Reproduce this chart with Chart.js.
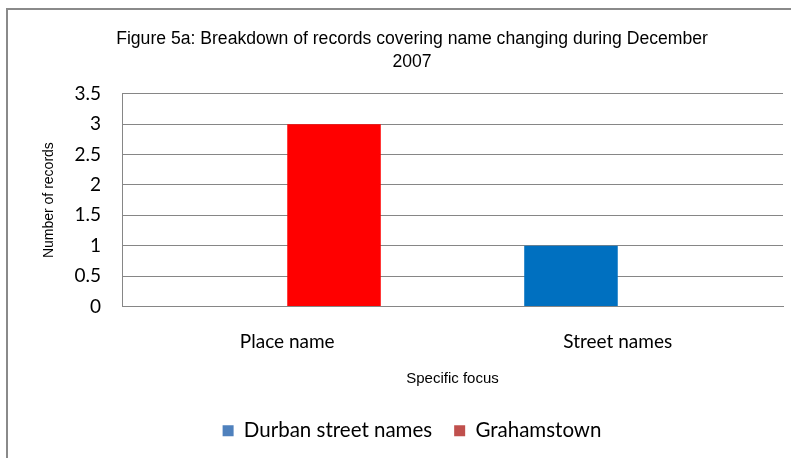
<!DOCTYPE html>
<html>
<head>
<meta charset="utf-8">
<script src="https://cdn.jsdelivr.net/npm/chart.js@4"></script>
<style>
  html, body { margin: 0; padding: 0; background: #fff; }
  #wrap { width: 791px; height: 458px; }
</style>
</head>
<body>
<div id="wrap"><canvas id="chart" width="791" height="458"></canvas></div>
<script>
// data
const categories = ['Place name', 'Street names'];
const durbanValues = [null, 1];
const grahamstownValues = [3, null];
const seriesNames = ['Durban street names', 'Grahamstown'];
const barColors = ['#0070C0', '#FF0000'];
const legendColors = ['#4F81BD', '#C0504D'];
const titleLines = ['Figure 5a: Breakdown of records covering name changing during December', '2007'];

// grey frame round the chart, only left and top edges are visible
const frame = {
    id: 'frame',
    beforeDraw(chart) {
        const c = chart.ctx;
        c.save();
        c.fillStyle = '#fff';
        c.fillRect(0, 0, chart.width, chart.height);
        c.strokeStyle = '#8a8a8a';
        c.lineWidth = 2;
        c.beginPath();
        c.moveTo(7, chart.height);
        c.lineTo(7, 9);
        c.lineTo(chart.width, 9);
        c.stroke();
        c.restore();
    }
};

const narrow = '"Liberation Sans Narrow", "Liberation Sans", Arial';

const ctx = document.getElementById('chart');
new Chart(ctx, {
    type: 'bar',
    data: {
        labels: categories,
        datasets: [
            { label: seriesNames[0], data: durbanValues, backgroundColor: barColors[0] },
            { label: seriesNames[1], data: grahamstownValues, backgroundColor: barColors[1] }
        ]
    },
    options: {
        responsive: false,
        animation: false,
        categoryPercentage: 0.566,
        barPercentage: 1,
        layout: { padding: { left: 41, right: 8, top: 0, bottom: 7 } },
        plugins: {
            title: {
                display: true,
                text: titleLines,
                color: '#000',
                font: { family: narrow, size: 17.6, weight: 'normal', lineHeight: 1.3 },
                padding: { top: 28, bottom: 20 }
            },
            legend: {
                position: 'bottom',
                labels: {
                    color: '#000',
                    font: { family: 'Lato', size: 20.5 },
                    boxWidth: 11,
                    boxHeight: 11,
                    padding: 22,
                    generateLabels: chart => chart.data.datasets.map((ds, i) => ({
                        text: ds.label,
                        fillStyle: legendColors[i],
                        strokeStyle: legendColors[i],
                        lineWidth: 0,
                        datasetIndex: i
                    }))
                }
            },
            tooltip: { enabled: false }
        },
        scales: {
            x: {
                grid: { display: false },
                border: { display: true, color: '#868686', width: 1 },
                ticks: { color: '#000', font: { family: 'Lato', size: 19 }, padding: 16 },
                title: {
                    display: true,
                    text: 'Specific focus',
                    color: '#000',
                    font: { family: narrow, size: 15 },
                    padding: { top: 0, bottom: 11 }
                },
                afterFit(scale) { scale.height = 92; }
            },
            y: {
                min: 0,
                max: 3.5,
                ticks: {
                    stepSize: 0.5,
                    color: '#000',
                    font: { family: 'Lato', size: 19 },
                    padding: 21,
                    callback: v => String(v)
                },
                grid: { color: '#868686', drawTicks: false },
                border: { display: true, color: '#868686', width: 1 },
                title: {
                    display: true,
                    text: 'Number of records',
                    color: '#000',
                    font: { family: narrow, size: 14 },
                    padding: { top: 0, bottom: 0 }
                },
                afterFit(scale) { scale.width = 81; }
            }
        }
    },
    plugins: [frame]
});
</script>
</body>
</html>
